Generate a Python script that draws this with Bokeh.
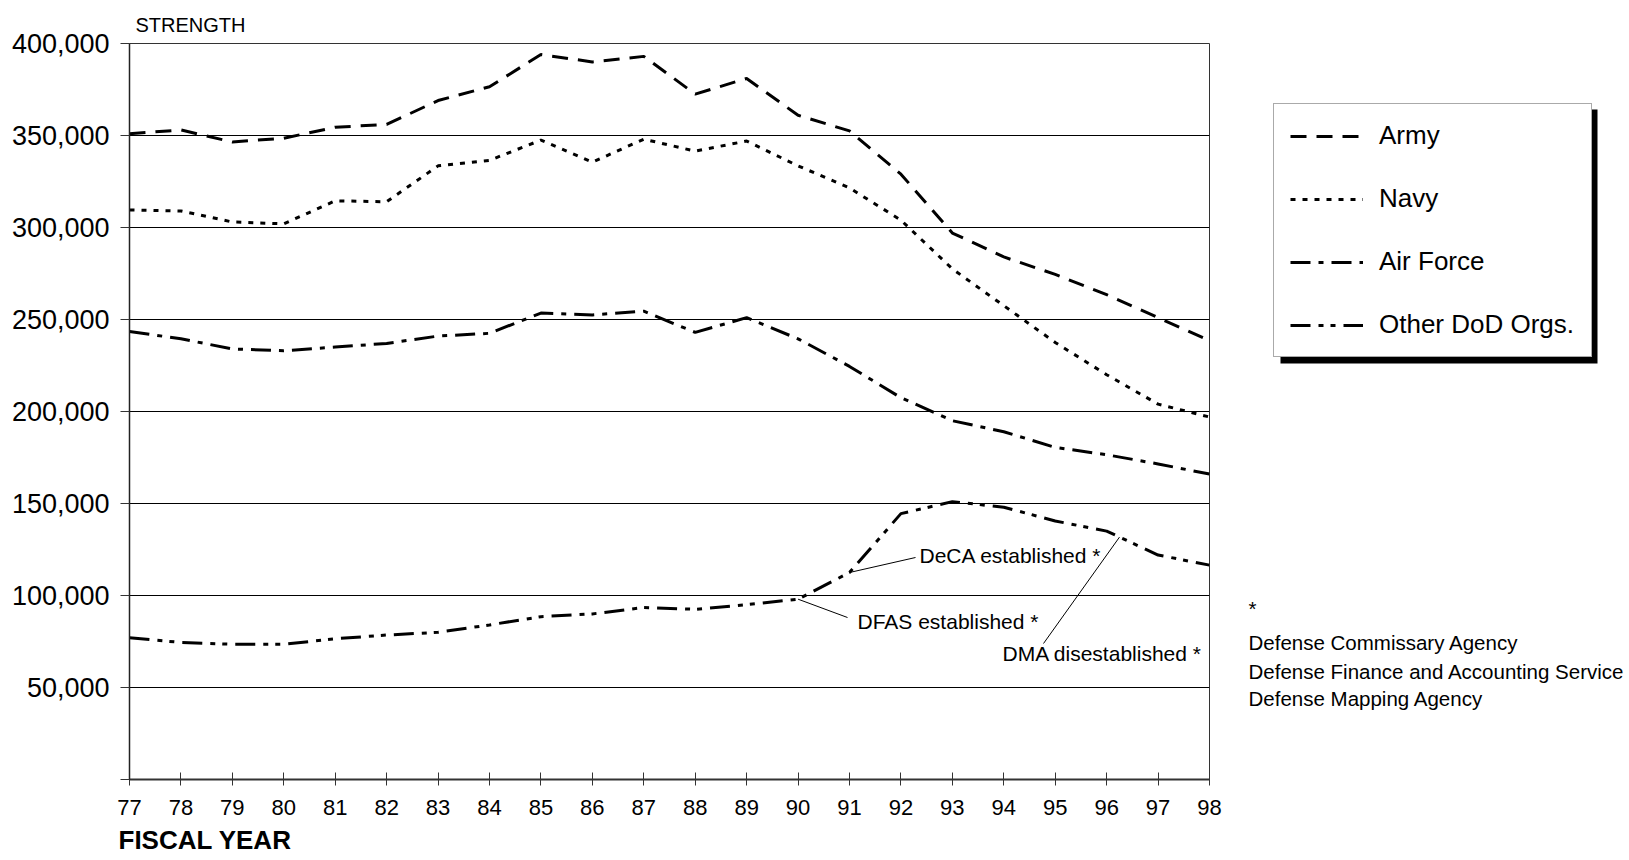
from bokeh.plotting import figure
from bokeh.layouts import row
from bokeh.models import (FixedTicker, NumeralTickFormatter, Legend, LegendItem,
                          Label, Range1d, Title, BoxAnnotation)
from bokeh.embed import file_html
from bokeh.resources import INLINE

# ---------------- data ----------------
years = list(range(77, 99))
year_labels = [str(y) for y in years]
army = [351000, 353000, 346500, 348500, 354500, 356000, 369000, 376500, 394000, 390000, 393000,
        372500, 381000, 361000, 352500, 329000, 297000, 284000, 274500, 263500, 251000, 238500]
navy = [309500, 309000, 303000, 302000, 314500, 314000, 333500, 336500, 347500, 335500, 348000,
        341500, 347000, 333500, 321500, 304000, 277500, 257500, 237500, 220000, 204000, 197000]
air_force = [243500, 239500, 234000, 233000, 235000, 237000, 241000, 242500, 253500, 252500, 254500,
             243000, 251000, 239500, 224500, 207500, 195000, 189000, 180500, 176500, 171500, 166000]
other_dod = [77000, 74500, 73500, 73500, 76500, 78500, 80000, 84000, 88500, 90000, 93500,
             92500, 95000, 98000, 112500, 144500, 151000, 148000, 140500, 135000, 122000, 116500]
series_names = ["Army", "Navy", "Air Force", "Other DoD Orgs."]
y_ticks = [0, 50000, 100000, 150000, 200000, 250000, 300000, 350000, 400000]
footnotes = ["*", "Defense Commissary Agency", "Defense Finance and Accounting Service",
             "Defense Mapping Agency"]

# ---------------- layout ----------------
H = 860
W1 = 1240                      # main chart canvas width
W2 = 1629 - W1                 # side panel (legend + footnote)
L, T, R, B = 129, 43, 1209, 779  # frame in page px
FONT = "Liberation Sans"
LBL_SHIFT = 7                  # label baseline correction (px)

p = figure(width=W1, height=H, output_backend="svg", toolbar_location=None,
           x_range=Range1d(77, 98), y_range=Range1d(0, 400000),
           min_border_left=L, min_border_top=T, min_border_right=W1 - R,
           min_border_bottom=H - B, background_fill_color="white",
           border_fill_color="white")
p.outline_line_color = "#333333"
p.outline_line_width = 1

def px2x(page_x):
    return 77 + (page_x - L) / (R - L) * 21

def px2y(page_y):
    return (B - page_y) / (B - T) * 400000

# axes
p.xaxis.ticker = FixedTicker(ticks=years)
p.xaxis.major_label_overrides = {y: s for y, s in zip(years, year_labels)}
p.xaxis.major_label_text_font = FONT
p.xaxis.major_label_text_font_size = "22px"
p.xaxis.major_label_text_color = "black"
p.xaxis.major_tick_in = 7
p.xaxis.major_tick_out = 6
p.xaxis.minor_tick_line_color = None
p.xaxis.axis_line_width = 2
p.xaxis.axis_line_color = "#333333"
p.xaxis.major_tick_line_color = "#333333"
p.xaxis.major_label_standoff = 14

p.yaxis.ticker = FixedTicker(ticks=y_ticks)
p.yaxis.formatter = NumeralTickFormatter(format="0,0")
p.yaxis.major_label_overrides = {0: ""}
p.yaxis.major_label_text_font = FONT
p.yaxis.major_label_text_font_size = "27px"
p.yaxis.major_label_text_color = "black"
p.yaxis.major_tick_in = 0
p.yaxis.major_tick_out = 9
p.yaxis.minor_tick_line_color = None
p.yaxis.axis_line_width = 1.5
p.yaxis.axis_line_color = "#222222"
p.yaxis.major_tick_line_color = "#333333"
p.yaxis.major_label_standoff = 11

p.xgrid.grid_line_color = None
p.ygrid.grid_line_color = "black"
p.ygrid.grid_line_width = 1

# axis titles
p.add_layout(Title(text="STRENGTH", align="left", offset=6, text_font=FONT,
                   text_font_size="20px", text_font_style="normal", text_color="black",
                   standoff=16), "above")
p.add_layout(Title(text="FISCAL YEAR", align="left", offset=-11, text_font=FONT,
                   text_font_size="26px", text_font_style="bold", text_color="black",
                   text_baseline="alphabetic", standoff=11), "below")

# series
dashes = ["16 10", "5 7", "20 8 5 8", "20 8 5 7 5 8"]
data = [army, navy, air_force, other_dod]
for vals, dash in zip(data, dashes):
    p.line(years, vals, line_color="black", line_width=3, line_dash=dash)

# annotations with leader lines
def label(fig, x, y, text, size="21px", bold=False):
    fig.add_layout(Label(x=x, y=y, text=text, text_font=FONT, text_font_size=size,
                         text_baseline="alphabetic", text_align="left", text_color="black",
                         text_font_style="bold" if bold else "normal"))

i91 = years.index(91)
p.segment(x0=[years[i91]], y0=[other_dod[i91]], x1=[px2x(915)], y1=[px2y(557)],
          line_color="black", line_width=1)
label(p, px2x(919), px2y(562 - LBL_SHIFT), "DeCA established *")

i90 = years.index(90)
p.segment(x0=[years[i90]], y0=[other_dod[i90]], x1=[px2x(847)], y1=[px2y(617)],
          line_color="black", line_width=1)
label(p, px2x(857), px2y(628 - LBL_SHIFT), "DFAS established *")

i96 = years.index(96)
xd = 96.25
yd = other_dod[i96] + (xd - 96) * (other_dod[i96 + 1] - other_dod[i96])
p.segment(x0=[xd], y0=[yd], x1=[px2x(1043)], y1=[px2y(643)],
          line_color="black", line_width=1)
label(p, px2x(1002), px2y(660 - LBL_SHIFT), "DMA disestablished *")

# ---------------- side panel: legend + footnote ----------------
p2 = figure(width=W2, height=H, output_backend="svg", toolbar_location=None,
            x_range=Range1d(0, W2), y_range=Range1d(H - B, H - T), x_axis_type=None,
            y_axis_type=None, min_border_left=0, min_border_right=0,
            min_border_top=T, min_border_bottom=H - B,
            background_fill_color="white", border_fill_color="white")
p2.outline_line_color = None
p2.grid.grid_line_color = None

def sx(page_x):
    return page_x - W1

def sy(page_y):
    return H - page_y

# legend proxies (lie outside the panel's view, only used for legend glyphs)
proxies = []
for vals, dash in zip(data, dashes):
    proxies.append(p2.line(years, vals, line_color="black", line_width=3, line_dash=dash))

# legend box: 1273..1590 x 103..357 (page px); drop shadow offset 7/6 px
p2.add_layout(BoxAnnotation(left=sx(1280), right=sx(1597), top=sy(109), bottom=sy(363),
                            fill_color="black", fill_alpha=1, line_color=None))
main_leg = Legend(items=[LegendItem(label=n, renderers=[r]) for n, r in zip(series_names, proxies)],
                  location=(sx(1273), B - 357), background_fill_color="white",
                  background_fill_alpha=1, border_line_color="#555555", label_text_color="black",
                  label_text_font=FONT, label_text_font_size="26px", label_width=196,
                  label_height=30, glyph_height=30, glyph_width=73, label_standoff=16,
                  padding=16, spacing=32, margin=0, border_line_width=1)
p2.add_layout(main_leg, "center")

foot_baselines = [615, 649, 678, 705]
for txt, yb in zip(footnotes, foot_baselines):
    label(p2, sx(1248), sy(yb - LBL_SHIFT), txt, size="20.5px")

layout = row(p, p2)
open("out.html", "w").write(file_html(layout, INLINE))
